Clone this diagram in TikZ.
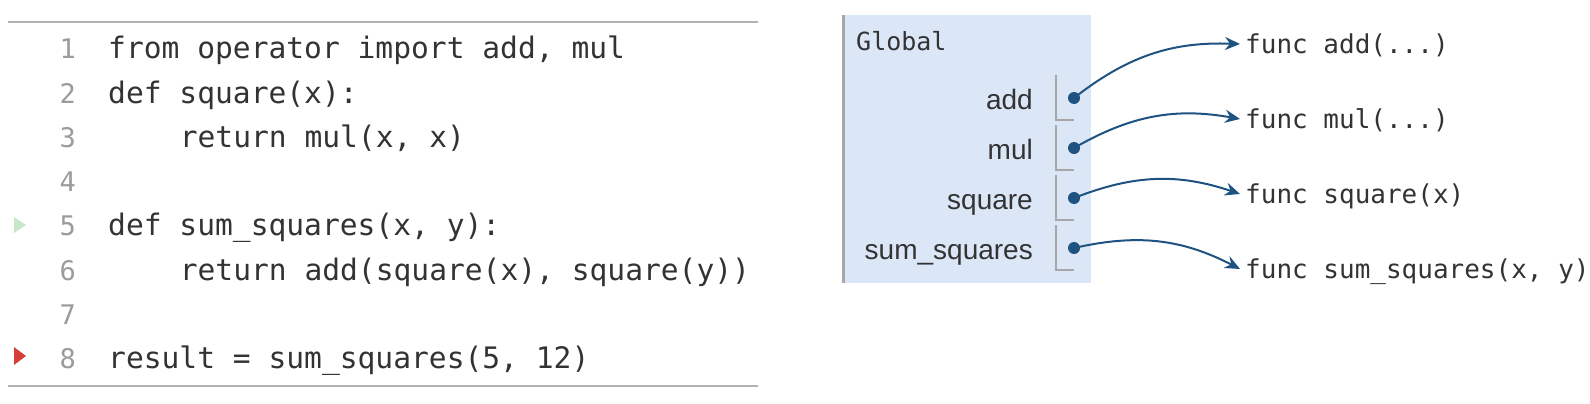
\documentclass[tikz,border=0pt]{standalone}
\usepackage{fontspec}
\newfontfamily\codefont{DejaVu Sans Mono}
\newfontfamily\namefont{Liberation Sans}
\usetikzlibrary{arrows.meta}
\definecolor{ptarrow}{RGB}{30,82,128}
\definecolor{ptframe}{RGB}{219,231,247}
\definecolor{ptrule}{RGB}{178,178,178}
\definecolor{ptedge}{RGB}{166,166,166}
\definecolor{pttext}{RGB}{51,51,51}
\definecolor{ptnum}{RGB}{155,155,155}
\definecolor{ptgreen}{RGB}{200,230,200}
\definecolor{ptred}{RGB}{212,63,58}

\tikzset{
	codeline/.style={anchor=base west, inner sep=0pt, text=pttext, font=\codefont\fontsize{29.6}{30}\selectfont},
	lineno/.style={anchor=base east, inner sep=0pt, text=ptnum, font=\codefont\fontsize{27}{30}\selectfont},
	varname/.style={anchor=base east, inner sep=0pt, text=pttext, font=\namefont\fontsize{28}{30}\selectfont},
	funcobj/.style={anchor=west, inner xsep=5pt, inner ysep=0pt, text height=22pt, text depth=4pt, text=pttext, font=\codefont\fontsize{26}{28}\selectfont},
	pointer/.style={circle, fill=ptarrow, inner sep=0pt, minimum size=12pt},
	ref/.style={ptarrow, line width=2pt, -{Stealth[length=15pt,width=13pt,inset=5pt]}, bend left=20},
	slot/.style={ptedge, line width=2pt}
}

\begin{document}
\begin{tikzpicture}[x=1pt,y=-1pt]
	\useasboundingbox (0,0) rectangle (1590,404);
	
	% code panel
	\draw[ptrule, line width=2pt] (8,22) -- (758,22);
	\draw[ptrule, line width=2pt] (8,386) -- (758,386);
	\foreach \n/\ind/\txt in {1/0/{from operator import add, mul}, 2/0/{def square(x):}, 3/4/{return mul(x, x)}, 4/0/{}, 5/0/{def sum\_squares(x, y):}, 6/4/{return add(square(x), square(y))}, 7/0/{}, 8/0/{result = sum\_squares(5, 12)}} {
		\node[lineno] (num\n) at (76, {59+44.2*(\n-1)}) {\n};
		\node[codeline] (code\n) at ({108+17.9*\ind}, {59+44.2*(\n-1)}) {\txt};
	}
	\fill[ptgreen] (14,217) -- (26,225) -- (14,233) -- cycle;
	\fill[ptred] (14,347) -- (26,356) -- (14,365) -- cycle;
	
	% global frame
	\fill[ptframe] (843,15) rectangle (1091,283);
	\draw[ptedge, line width=3pt] (843,15) -- (843,283);
	\node[anchor=base west, inner sep=0pt, text=pttext, font=\codefont\fontsize{25}{26}\selectfont] (global) at (856,51) {Global};
	
	\foreach \v/\lab/\ftxt/\fy [count=\k] in {add/add/{func add(...)}/44, mul/mul/{func mul(...)}/119, square/square/{func square(x)}/194, sumsq/sum\_squares/{func sum\_squares(x, y)}/269} {
		\draw[slot] (1056, {75+50*(\k-1)}) -- (1056, {120+50*(\k-1)}) -- (1074, {120+50*(\k-1)});
		\node[varname] (name\v) at (1033, {109+50*(\k-1)}) {\lab};
		\node[pointer] (dot\v) at (1074, {98+50*(\k-1)}) {};
		\node[funcobj] (func\v) at (1240, \fy) {\ftxt};
		\draw[ref] (dot\v.center) to (func\v.west);
	}
\end{tikzpicture}
\end{document}
